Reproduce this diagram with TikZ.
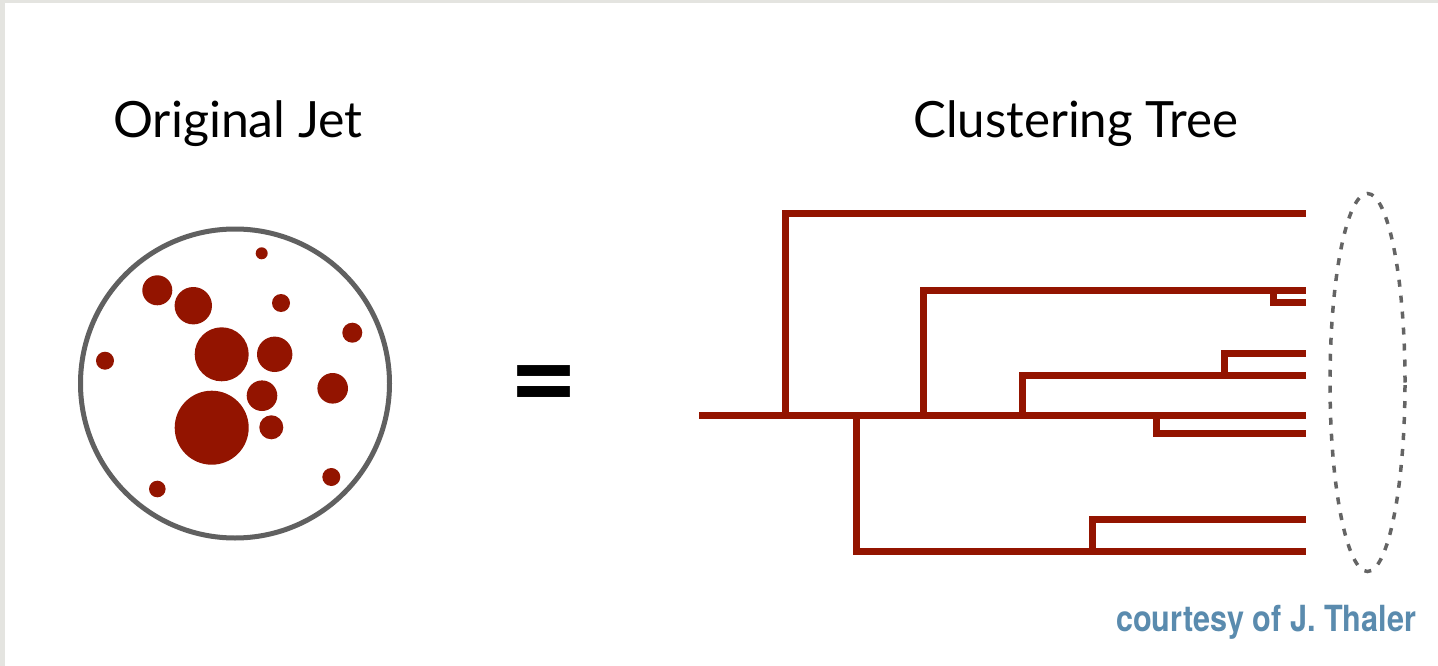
\documentclass[tikz,border=0pt]{standalone}
\usepackage{fontspec}
\usepackage{graphicx}
\setmainfont{Lato}
\newfontfamily\creditfont{TeX Gyre Heros}
\usetikzlibrary{shapes.geometric}

\definecolor{jetred}{RGB}{147,20,0}
\definecolor{ringgray}{RGB}{96,96,96}
\definecolor{dashgray}{RGB}{100,100,100}
\definecolor{creditblue}{RGB}{90,139,174}
\definecolor{paper}{RGB}{228,228,224}

\begin{document}
\begin{tikzpicture}[x=1pt,y=-1pt,
  branch/.style={draw=jetred, line width=7pt, line join=miter, line cap=butt},
  particle/.style={fill=jetred},
  title/.style={anchor=base west, inner sep=0pt, font=\fontsize{50}{60}\selectfont},
]
\useasboundingbox (0,0) rectangle (1438,666);
\fill[paper] (0,0) rectangle (1438,666);
\fill[white] (5,3) rectangle (1438,666);

% titles
\node[title] (jetlabel) at (113,137.3) {Original Jet};
\node[title] (treelabel) at (913,137.3) {\scalebox{0.985}[1]{Clustering Tree}};

% the jet and its constituents
\node[circle, draw=ringgray, line width=5pt, minimum size=309pt, inner sep=0pt] (jet) at (235,383.5) {};
\fill[particle] (261.7,253.3) circle[radius=6pt];
\fill[particle] (157.3,290.3) circle[radius=15pt];
\fill[particle] (193.3,305.7) circle[radius=18.7pt];
\fill[particle] (281,303) circle[radius=9pt];
\fill[particle] (352.3,332.7) circle[radius=10pt];
\fill[particle] (221.7,354.3) circle[radius=27pt];
\fill[particle] (274.7,354.3) circle[radius=17.7pt];
\fill[particle] (105,360.7) circle[radius=9pt];
\fill[particle] (332.7,388.3) circle[radius=15.3pt];
\fill[particle] (262,395.7) circle[radius=15.3pt];
\fill[particle] (211.7,427.7) circle[radius=37pt];
\fill[particle] (271.3,427.3) circle[radius=12pt];
\fill[particle] (331.3,477) circle[radius=9pt];
\fill[particle] (157.3,489) circle[radius=8.3pt];

% equals sign
\node[inner sep=0pt, font=\bfseries\fontsize{119}{124}\selectfont] (eq) at (544,394) {=};

% clustering tree: leaves
\coordinate (root) at (699,415.5);
\coordinate (L1) at (1306,213.5);
\coordinate (L2) at (1306,290.2);
\coordinate (L2b) at (1306,302.7);
\coordinate (L3) at (1306,353.5);
\coordinate (L4) at (1306,375.5);
\coordinate (L5) at (1306,415.5);
\coordinate (L6) at (1306,433.8);
\coordinate (L7) at (1306,519.5);
\coordinate (L8) at (1306,551.8);
% clustering tree: merge points
\coordinate (j1) at (785.3,415.5);
\coordinate (j2) at (923.7,415.5);
\coordinate (j2b) at (1273.3,290.2);
\coordinate (j3) at (1022,415.5);
\coordinate (j3b) at (1224,375.5);
\coordinate (j4) at (1156.8,415.5);
\coordinate (j5) at (856.3,415.5);
\coordinate (j5b) at (1092.8,551.8);

\draw[branch] (root) -- (L5);
\draw[branch] (j1) |- (L1);
\draw[branch] (j2) |- (L2);
\draw[branch] (j2b) |- (L2b);
\draw[branch] (j3) |- (L4);
\draw[branch] (j3b) |- (L3);
\draw[branch] (j4) |- (L6);
\draw[branch] (j5) |- (L8);
\draw[branch] (j5b) |- (L7);

% final-state leaves
\node[ellipse, draw=dashgray, line width=3.5pt, dash pattern=on 7pt off 9pt,
      minimum width=75pt, minimum height=378pt, inner sep=0pt] (leaves) at (1367.5,382.5) {};

% credit
\node[anchor=base west, inner sep=0pt, text=creditblue,
      font=\creditfont\bfseries\fontsize{36}{40}\selectfont] (credit) at (1116,631)
      {\scalebox{0.85}[1]{courtesy of J. Thaler}};
\end{tikzpicture}
\end{document}
